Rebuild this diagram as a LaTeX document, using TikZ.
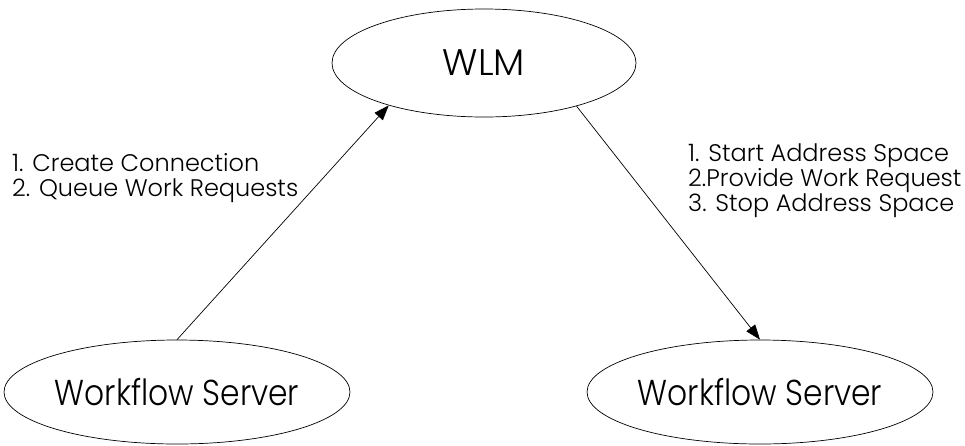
\documentclass[tikz,border=0pt]{standalone}
\usepackage{fontspec}
\setmainfont{Poppins}[UprightFont=* Light]
\usetikzlibrary{shapes.geometric,arrows.meta}
\begin{document}
\begin{tikzpicture}[x=1pt,y=-1pt,
  oval/.style={draw, ellipse, line width=0.7pt, inner sep=0pt},
  link/.style={line width=0.7pt, -{Triangle[length=15pt,width=11pt]}},
  note/.style={align=left, anchor=north west, inner sep=0pt, font=\fontsize{24}{25}\selectfont}]
\useasboundingbox (0,0) rectangle (965,445);
% the three parties
\node[oval, minimum width=304pt, minimum height=108pt] (wlm) at (484,63)
  {\fontsize{37}{40}\selectfont WLM};
\node[oval, minimum width=304pt, minimum height=104pt] (wsl) at (177,392)
  {\scalebox{0.87}[1]{\fontsize{36}{40}\selectfont Workflow Server}};
\node[oval, minimum width=304pt, minimum height=104pt] (wsr) at (760,392)
  {\scalebox{0.87}[1]{\fontsize{36}{40}\selectfont Workflow Server}};
% requests and replies
\draw[link] (wsl.north) -- (wlm.204);
\draw[link] (wlm.335) -- (wsr.north);
% step lists
\node[note] (lnote) at (12,153) {1. Create Connection\\2. Queue Work Requests};
\node[note] (rnote) at (688,144) {1. Start Address Space\\2.Provide Work Request\\3. Stop Address Space};
\end{tikzpicture}
\end{document}
